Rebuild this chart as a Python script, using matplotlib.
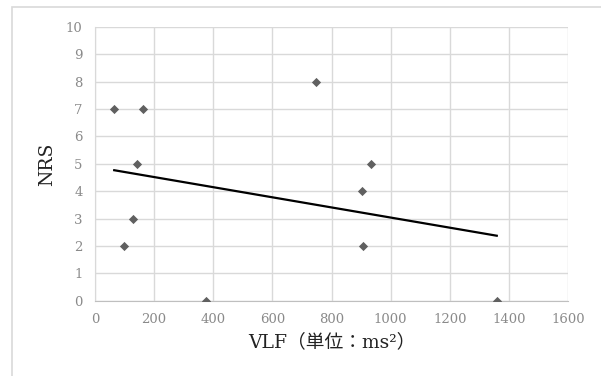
import numpy as np
import matplotlib.pyplot as plt
from matplotlib.patches import Rectangle

# VLF (ms^2) vs NRS
vlf = [65, 162, 141, 130, 98, 374, 747, 934, 904, 905, 1359]
nrs = [7, 7, 5, 3, 2, 0, 8, 5, 4, 2, 0]
x_ticks = [0, 200, 400, 600, 800, 1000, 1200, 1400, 1600]
y_ticks = list(range(0, 11))

plt.rcParams['font.family'] = ['DejaVu Serif', 'Noto Sans CJK JP']

fig = plt.figure(figsize=(6.01, 3.76), dpi=100)
ax = fig.add_axes([95 / 601, 1 - 300.7 / 376, 473 / 601, 273.7 / 376])

# outer chart border
fig.patches.append(Rectangle((11.5 / 601, -0.1), 1.2, 1 - 6.5 / 376 + 0.1,
                             transform=fig.transFigure, fill=False,
                             edgecolor='#d9d9d9', linewidth=1.2, clip_on=False))

ax.scatter(vlf, nrs, marker='D', s=22, color='#606060', zorder=3, linewidths=0)

# linear trendline
slope, icpt = np.polyfit(vlf, nrs, 1)
xl = np.array([min(vlf), max(vlf)])
ax.plot(xl, slope * xl + icpt, color='black', linewidth=1.6, zorder=2)

ax.set_xlim(0, 1600)
ax.set_ylim(0, 10)
ax.set_xticks(x_ticks)
ax.set_yticks(y_ticks)
ax.grid(True, color='#d9d9d9', linewidth=1)
ax.set_axisbelow(True)
for s in ['top', 'right']:
    ax.spines[s].set_visible(False)
ax.spines['left'].set_color('#d9d9d9')
ax.spines['bottom'].set_color('#bfbfbf')
ax.tick_params(length=0, colors='#8a8a8a', labelsize=9.5, pad=9)
ax.set_xlabel('VLF（単位：ms²）', fontsize=13.5, color='#222222', labelpad=5)
ax.set_ylabel('NRS', fontsize=13.5, color='#222222', labelpad=7)

fig.savefig('out.png', dpi=100)
